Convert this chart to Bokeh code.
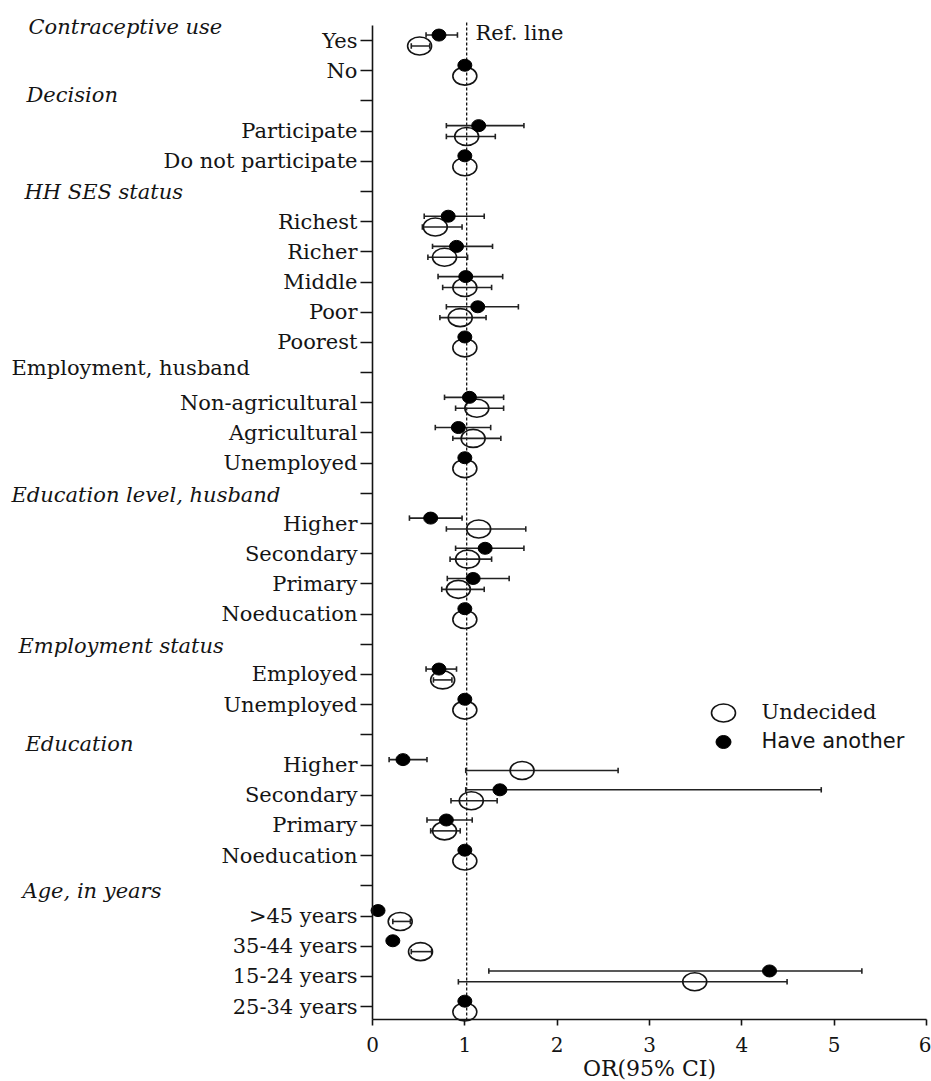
from bokeh.plotting import figure
from bokeh.models import Range1d, FixedTicker, ColumnDataSource
from bokeh.core.properties import value
from bokeh.embed import file_html
from bokeh.resources import INLINE

# Row labels, top to bottom ("" = spacer row under a group heading)
row_labels = [
    "Yes", "No", "",
    "Participate", "Do not participate", "",
    "Richest", "Richer", "Middle", "Poor", "Poorest", "",
    "Non-agricultural", "Agricultural", "Unemployed", "",
    "Higher", "Secondary", "Primary", "Noeducation", "",
    "Employed", "Unemployed", "",
    "Higher", "Secondary", "Primary", "Noeducation", "",
    ">45 years", "35-44 years", "15-24 years", "25-34 years",
]

# Odds ratios and 95% CI, "Have another"
have_or = [0.72, 1.0, None, 1.15, 1.0, None, 0.82, 0.91, 1.01, 1.14, 1.0, None,
           1.05, 0.93, 1.0, None, 0.63, 1.22, 1.09, 1.0, None, 0.72, 1.0, None,
           0.33, 1.38, 0.80, 1.0, None, 0.06, 0.22, 4.30, 1.0]
have_lo = [0.58, None, None, 0.80, None, None, 0.56, 0.65, 0.71, 0.80, None, None,
           0.78, 0.68, None, None, 0.40, 0.90, 0.81, None, None, 0.58, None, None,
           0.18, 1.01, 0.59, None, None, 0.03, 0.17, 1.26, None]
have_hi = [0.92, None, None, 1.64, None, None, 1.21, 1.30, 1.41, 1.58, None, None,
           1.42, 1.28, None, None, 0.97, 1.64, 1.48, None, None, 0.91, None, None,
           0.59, 4.86, 1.08, None, None, 0.10, 0.28, 5.30, None]

# Odds ratios and 95% CI, "Undecided"
undec_or = [0.51, 1.0, None, 1.02, 1.0, None, 0.68, 0.78, 1.00, 0.95, 1.0, None,
            1.13, 1.09, 1.0, None, 1.15, 1.03, 0.93, 1.0, None, 0.76, 1.0, None,
            1.62, 1.07, 0.78, 1.0, None, 0.30, 0.52, 3.49, 1.0]
undec_lo = [0.42, None, None, 0.80, None, None, 0.54, 0.60, 0.76, 0.73, None, None,
            0.90, 0.87, None, None, 0.80, 0.84, 0.75, None, None, 0.66, None, None,
            1.01, 0.85, 0.63, None, None, 0.22, 0.42, 0.93, None]
undec_hi = [0.62, None, None, 1.33, None, None, 0.97, 1.03, 1.29, 1.23, None, None,
            1.42, 1.39, None, None, 1.66, 1.29, 1.21, None, None, 0.86, None, None,
            2.66, 1.35, 0.95, None, None, 0.41, 0.64, 4.49, None]

# Group headings
headings = ["Contraceptive use", "Decision", "HH SES status",
            "Employment, husband", "Education level, husband",
            "Employment status", "Education", "Age, in years"]
heading_styles = ["italic", "italic", "italic", "normal", "italic",
                  "italic", "italic", "italic"]

x_ticks = [0, 1, 2, 3, 4, 5, 6]
ref_value = 1.02
x_title = "OR(95% CI)"
series_names = ["Undecided", "Have another"]

# ---- layout (pixels) ----
W, H = 931, 1081
AX_L, AX_R, AX_T, AX_B = 372, 926, 25, 1019
ROW0_PX, ROW_STEP = 40.0, 30.19
X_MIN, X_MAX = x_ticks[0], x_ticks[-1]
PX_PER_X = (AX_R - AX_L) / (X_MAX - X_MIN)


def x_at(px):
    return X_MIN + (px - AX_L) / PX_PER_X


def y_at(py):
    return (py - ROW0_PX) / ROW_STEP


heading_px = [(28, 26), (26, 94), (24, 191.5), (11, 367.5), (11, 494),
              (18, 645), (25, 743), (22, 890)]

SERIF = "DejaVu Serif"
SANS = "DejaVu Sans"
INK = "#141414"

n_rows = len(row_labels)
p = figure(
    width=W, height=H,
    x_range=Range1d(x_at(0), x_at(W)),
    y_range=Range1d(y_at(H), y_at(0)),
    output_backend="svg", toolbar_location=None,
    min_border_left=0, min_border_right=0,
    min_border_top=0, min_border_bottom=0,
)
p.xgrid.visible = False
p.ygrid.visible = False
p.outline_line_color = None
p.background_fill_color = "white"
p.border_fill_color = "white"

# y axis: categories, pinned at OR = 0
yax = p.yaxis[0]
yax.fixed_location = X_MIN
yax.bounds = (y_at(AX_T), y_at(AX_B))
yax.ticker = FixedTicker(ticks=list(range(n_rows)))
yax.major_label_overrides = {i: lab for i, lab in enumerate(row_labels)}
yax.major_tick_out = 12
yax.major_tick_in = 0
yax.minor_tick_line_color = None
yax.axis_line_width = 1.6
yax.major_tick_line_width = 1.6
yax.axis_line_color = INK
yax.major_tick_line_color = INK
yax.major_label_standoff = 3
yax.major_label_text_font = SERIF
yax.major_label_text_font_size = "21px"
yax.major_label_text_color = INK

# x axis: odds ratio, pinned below the last row
xax = p.xaxis[0]
xax.fixed_location = y_at(AX_B)
xax.bounds = (X_MIN, X_MAX)
xax.ticker = FixedTicker(ticks=x_ticks)
xax.major_tick_out = 6
xax.major_tick_in = 0
xax.minor_tick_line_color = None
xax.axis_line_width = 1.6
xax.major_tick_line_width = 1.6
xax.axis_line_color = INK
xax.major_tick_line_color = INK
xax.major_label_standoff = 11
xax.major_label_text_font = SERIF
xax.major_label_text_font_size = "20px"
xax.major_label_text_color = INK

p.text(x=[(X_MIN + X_MAX) / 2], y=[y_at(1068)], text=[x_title],
       text_font=value(SERIF), text_font_size="22px", text_color=INK,
       text_align="center", text_baseline="middle")

# reference line
p.segment(x0=[ref_value], y0=[y_at(22)], x1=[ref_value], y1=[y_at(AX_B)],
          line_color=INK, line_width=1.3, line_dash="3 2")
p.text(x=[x_at(475)], y=[y_at(32)], text=["Ref. line"],
       text_font=value(SERIF), text_font_size="21px", text_color=INK,
       text_baseline="alphabetic", text_align="left")

OFFSET = 0.18
CAP = 0.09


def series(vals, lo, hi, shift):
    pts = dict(x=[], y=[])
    ci = dict(x0=[], x1=[], y=[], cy0=[], cy1=[])
    for i, v in enumerate(vals):
        if v is None:
            continue
        y = i + shift
        pts["x"].append(v)
        pts["y"].append(y)
        if lo[i] is not None:
            ci["x0"].append(lo[i])
            ci["x1"].append(hi[i])
            ci["y"].append(y)
            ci["cy0"].append(y - CAP)
            ci["cy1"].append(y + CAP)
    return ColumnDataSource(pts), ColumnDataSource(ci)


have_pts, have_ci = series(have_or, have_lo, have_hi, -OFFSET)
undec_pts, undec_ci = series(undec_or, undec_lo, undec_hi, OFFSET)

for ci in (undec_ci, have_ci):
    p.segment(x0="x0", y0="y", x1="x1", y1="y", source=ci,
              line_color="#222222", line_width=1.6)
    p.segment(x0="x0", y0="cy0", x1="x0", y1="cy1", source=ci,
              line_color="#222222", line_width=1.6)
    p.segment(x0="x1", y0="cy0", x1="x1", y1="cy1", source=ci,
              line_color="#222222", line_width=1.6)

OPEN_W, OPEN_H = 24, 18
DOT_W, DOT_H = 14, 12

p.ellipse(x="x", y="y", width=OPEN_W, height=OPEN_H, width_units="screen",
          height_units="screen", source=undec_pts, fill_color=None,
          line_color=INK, line_width=1.6)
p.ellipse(x="x", y="y", width=DOT_W, height=DOT_H, width_units="screen",
          height_units="screen", source=have_pts, fill_color="black",
          line_color="black", line_width=1)

# group headings
head_src = ColumnDataSource(dict(
    x=[x_at(hx) for hx, _ in heading_px],
    y=[y_at(hy) for _, hy in heading_px],
    text=headings, style=heading_styles,
))
p.text(x="x", y="y", text="text", source=head_src, text_font=value(SERIF),
       text_font_size="21px", text_font_style="style", text_color=INK,
       text_align="left", text_baseline="middle")

# legend
p.ellipse(x=[x_at(723)], y=[y_at(712.5)], width=OPEN_W, height=OPEN_H,
          width_units="screen", height_units="screen", fill_color=None,
          line_color=INK, line_width=1.6)
p.ellipse(x=[x_at(723)], y=[y_at(741.5)], width=DOT_W + 1, height=DOT_H + 1,
          width_units="screen", height_units="screen", fill_color="black",
          line_color="black")
p.text(x=[x_at(761)], y=[y_at(711.5)], text=[series_names[0]],
       text_font=value(SERIF), text_font_size="21px", text_color=INK,
       text_align="left", text_baseline="middle")
p.text(x=[x_at(761)], y=[y_at(740.5)], text=[series_names[1]],
       text_font=value(SANS), text_font_size="21px", text_color=INK,
       text_align="left", text_baseline="middle")

open("out.html", "w").write(file_html(p, INLINE))
